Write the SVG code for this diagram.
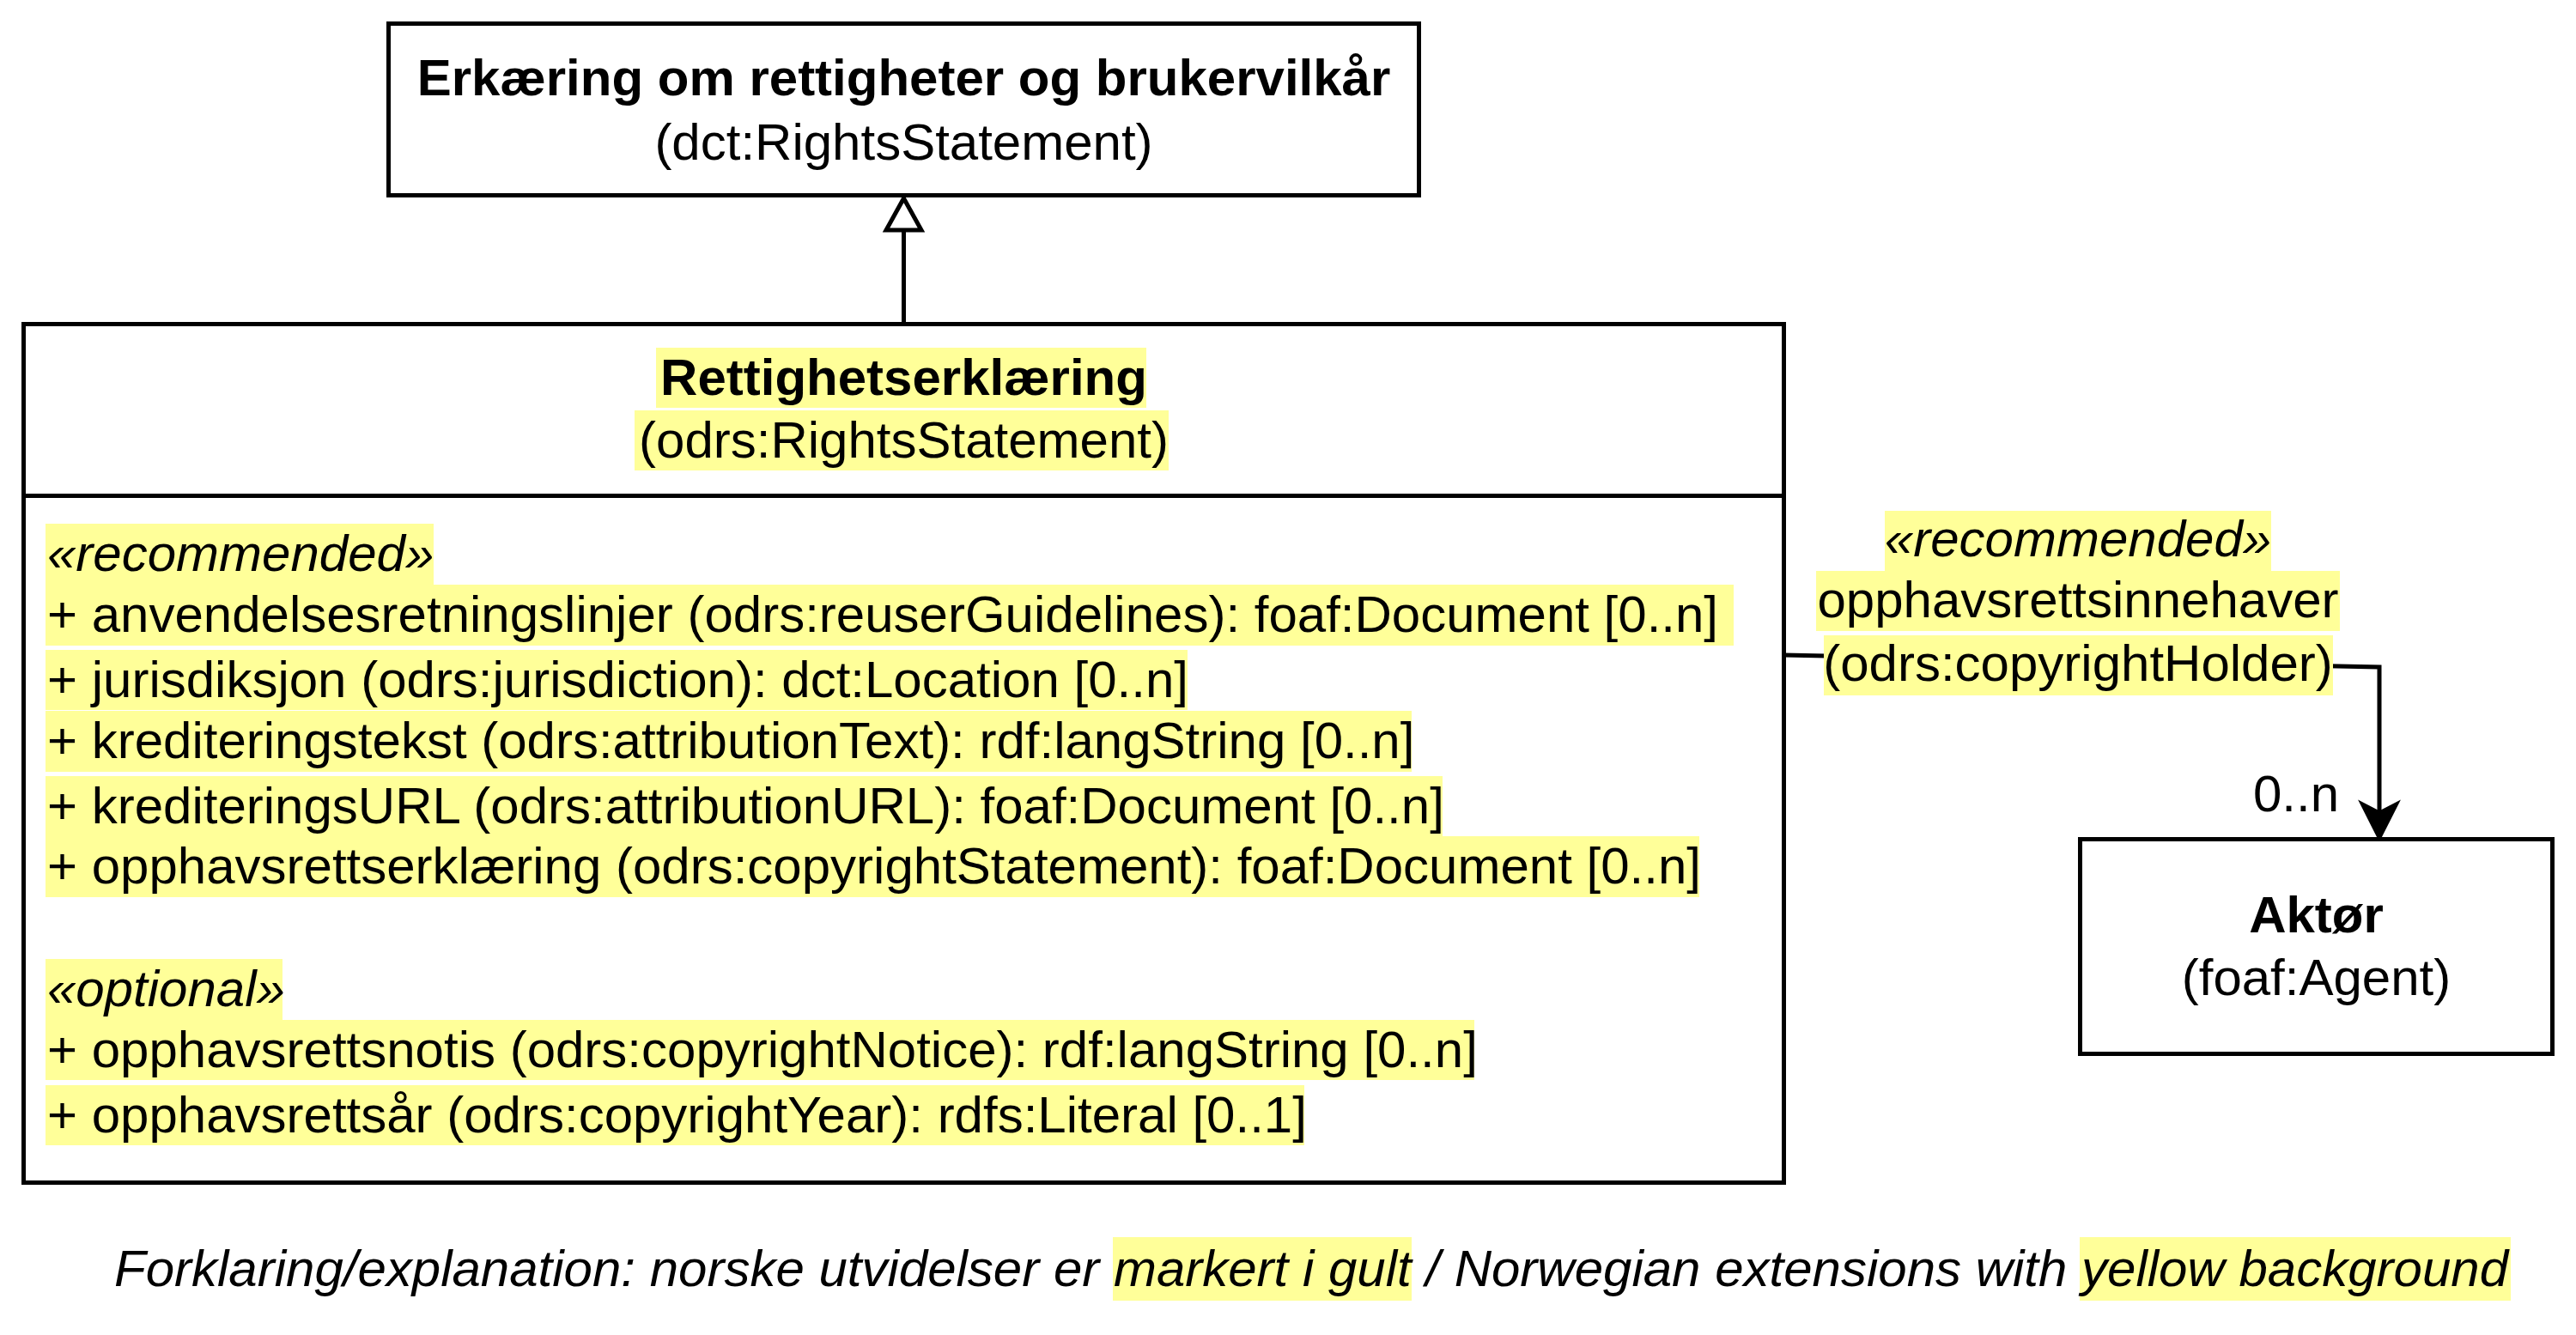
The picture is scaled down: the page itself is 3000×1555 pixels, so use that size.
<svg xmlns="http://www.w3.org/2000/svg" width="3000" height="1555" viewBox="0 0 3000 1555">
<style>
  text { font-family: "Liberation Sans", Arial, sans-serif; font-size: 60px; fill: #000; }
  .b { font-weight: bold; }
  .i { font-style: italic; }
  .c { text-anchor: middle; }
  .box { fill: #fff; stroke: #000; stroke-width: 5; }
  .hl { fill: #FFFF99; }
  .ln { fill: none; stroke: #000; stroke-width: 5; }
</style>
<rect width="3000" height="1555" fill="#fff"/>

<g id="connectors">
  <path class="ln" d="M1052.5,377.5 L1052.5,268"/>
  <path d="M1052.5,231 L1073,268 L1032,268 Z" fill="#fff" stroke="#000" stroke-width="5" stroke-linejoin="miter"/>
  <path class="ln" d="M2077.5,763 L2771,777 L2771,950"/>
  <path d="M2771,977.5 L2749.5,935 L2771,946 L2792.5,935 Z" fill="#000" stroke="#000" stroke-width="3"/>
  <g id="edge-label">
    <rect class="hl" x="2195" y="595" width="450" height="70"/>
    <rect class="hl" x="2115" y="665" width="610" height="70"/>
    <rect class="hl" x="2124" y="740" width="593" height="70"/>
    <text class="c i" x="2420" y="648">«recommended»</text>
    <text class="c" x="2420" y="719">opphavsrettsinnehaver</text>
    <text class="c" x="2420" y="793">(odrs:copyrightHolder)</text>
    <text x="2724" y="945" text-anchor="end">0..n</text>
  </g>
</g>

<g id="node-rightsstatement-dct">
  <rect class="box" x="452.5" y="27.5" width="1200" height="200"/>
  <text class="c b" x="1052.5" y="111">Erkæring om rettigheter og brukervilkår</text>
  <text class="c" x="1052.5" y="186">(dct:RightsStatement)</text>
</g>

<g id="node-rettighetserklaering">
  <rect class="box" x="27.5" y="377.5" width="2050" height="1000"/>
  <line class="ln" x1="27.5" y1="577.5" x2="2077.5" y2="577.5"/>
  <rect class="hl" x="764" y="405" width="571" height="70"/>
  <rect class="hl" x="739" y="478" width="622" height="70"/>
  <text class="c b" x="1052.5" y="460">Rettighetserklæring</text>
  <text class="c" x="1052.5" y="533">(odrs:RightsStatement)</text>

  <rect class="hl" x="53" y="610" width="452" height="71"/>
  <rect class="hl" x="53" y="681" width="1966" height="71"/>
  <rect class="hl" x="53" y="757" width="1330" height="70"/>
  <rect class="hl" x="53" y="828" width="1591" height="71"/>
  <rect class="hl" x="53" y="904" width="1627" height="70"/>
  <rect class="hl" x="53" y="974" width="1926" height="71"/>
  <rect class="hl" x="53" y="1117" width="276" height="71"/>
  <rect class="hl" x="53" y="1188" width="1664" height="70"/>
  <rect class="hl" x="53" y="1264" width="1466" height="70"/>

  <text class="i" x="55" y="665">«recommended»</text>
  <text x="55" y="736">+ anvendelsesretningslinjer (odrs:reuserGuidelines): foaf:Document [0..n]</text>
  <text x="55" y="812">+ jurisdiksjon (odrs:jurisdiction): dct:Location [0..n]</text>
  <text x="55" y="883">+ krediteringstekst (odrs:attributionText): rdf:langString [0..n]</text>
  <text x="55" y="959">+ krediteringsURL (odrs:attributionURL): foaf:Document [0..n]</text>
  <text x="55" y="1029">+ opphavsrettserklæring (odrs:copyrightStatement): foaf:Document [0..n]</text>
  <text class="i" x="55" y="1172">«optional»</text>
  <text x="55" y="1243">+ opphavsrettsnotis (odrs:copyrightNotice): rdf:langString [0..n]</text>
  <text x="55" y="1319">+ opphavsrettsår (odrs:copyrightYear): rdfs:Literal [0..1]</text>
</g>

<g id="node-aktor">
  <rect class="box" x="2422.5" y="977.5" width="550" height="250"/>
  <text class="c b" x="2697.5" y="1086">Aktør</text>
  <text class="c" x="2697.5" y="1159">(foaf:Agent)</text>
</g>

<g id="legend">
  <rect class="hl" x="1296" y="1441" width="348" height="74"/>
  <rect class="hl" x="2422" y="1441" width="502" height="74"/>
  <text class="i" x="133" y="1498">Forklaring/explanation: norske utvidelser er markert i gult / Norwegian extensions with yellow background</text>
</g>
</svg>
